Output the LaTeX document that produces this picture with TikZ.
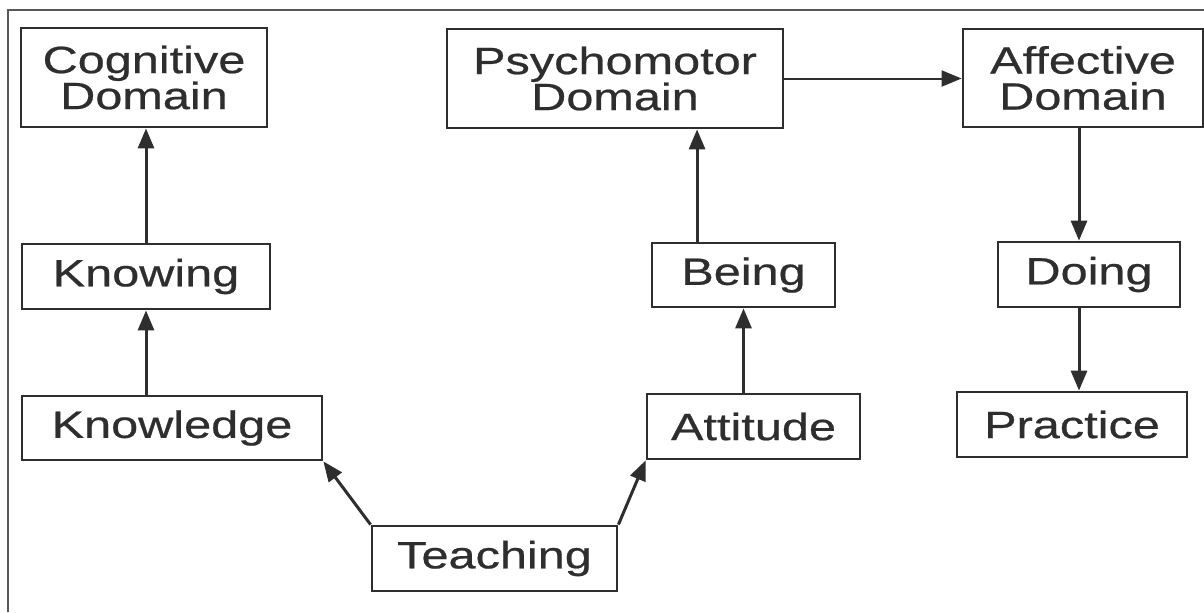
\documentclass[tikz,border=0pt]{standalone}
\usepackage{fontspec}
\setmainfont{Liberation Sans}[FakeStretch=1.28, FakeBold=0.6]
\usetikzlibrary{arrows.meta,calc}

\definecolor{inkgray}{HTML}{2E2E2E}
\tikzset{
	dombox/.style={draw=inkgray, line width=1.4pt, align=center, inner sep=0pt,
		font=\fontsize{19}{18}\selectfont, text=inkgray},
	uparrow/.style={draw=inkgray, line width=1.5pt, -{Triangle[length=10pt,width=8pt]}}
}

\begin{document}
\begin{tikzpicture}[x=0.5pt, y=-0.5pt]
	
	\useasboundingbox (0,0) rectangle (1204,612);
	\draw[inkgray!80, line width=1.4pt] (8,612) -- (8,10) -- (1204,10);
	
	\node[dombox, minimum width=123pt, minimum height=49.5pt] (cog) at (144,77.5) {Cognitive\\Domain};
	\node[dombox, minimum width=168pt, minimum height=49.5pt] (psy) at (615,78.5) {Psychomotor\\Domain};
	\node[dombox, minimum width=120pt, minimum height=49pt] (aff) at (1083,78) {Affective\\Domain};
	\node[dombox, minimum width=124pt, minimum height=32.5pt] (know) at (146,276.5) {Knowing};
	\node[dombox, minimum width=150pt, minimum height=32pt] (kdge) at (172,428) {Knowledge};
	\node[dombox, minimum width=122.5pt, minimum height=32.5pt] (teach) at (494.5,558.5) {Teaching};
	\node[dombox, minimum width=106.5pt, minimum height=32.5pt] (att) at (753.5,426.5) {Attitude};
	\node[dombox, minimum width=91.5pt, minimum height=32pt] (being) at (743.5,275) {Being};
	\node[dombox, minimum width=91pt, minimum height=32.5pt] (doing) at (1089,274.5) {Doing};
	\node[dombox, minimum width=115pt, minimum height=32.5pt] (prac) at (1072,424.5) {Practice};
	
	\draw[uparrow] (kdge.north -| know.south) -- (know.south);
	\draw[uparrow] (know.north) -- (know.north |- cog.south);
	\draw[uparrow] (teach.north west) -- (kdge.south east);
	\draw[uparrow] (teach.north east) -- (att.south west);
	\draw[uparrow] (att.north -| being.south) -- (being.south);
	\coordinate (bt) at ($(being.north west)!0.25!(being.north east)$);
	\draw[uparrow] (bt) -- (bt |- psy.south);
	\draw[uparrow, line width=1pt] (psy.east) -- (psy.east -| aff.west);
	\draw[uparrow] (aff.south -| 1079,0) -- (doing.north -| 1079,0);
	\draw[uparrow] (doing.south -| 1079,0) -- (prac.north -| 1079,0);
	
\end{tikzpicture}
\end{document}
